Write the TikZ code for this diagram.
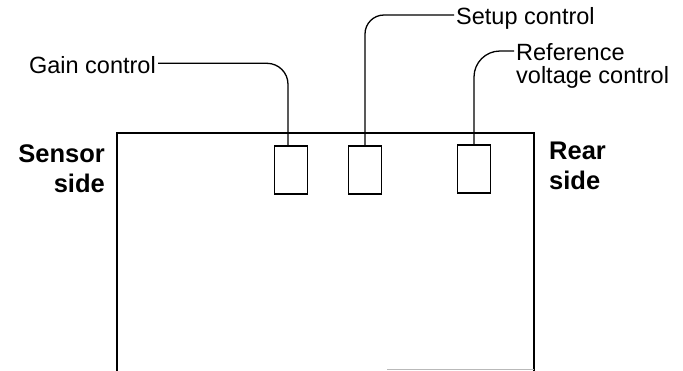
\documentclass[tikz,border=0pt]{standalone}
\usepackage{fontspec}
\setmainfont{Liberation Sans}
\begin{document}
\begin{tikzpicture}[x=1pt,y=-1pt,
  lbl/.style={inner sep=0pt, font=\fontsize{23.5}{23.5}\selectfont},
  sidelbl/.style={inner sep=0pt, font=\fontsize{25.5}{30}\selectfont\bfseries},
  knob/.style={draw, line width=1.6pt, minimum width=33pt, minimum height=48pt, inner sep=0pt},
  housing/.style={line width=1.8pt},
  lead/.style={line width=1.3pt}]
\useasboundingbox (0,0) rectangle (683,370);
% housing
\draw[housing] (117,371) -- (117,133) -- (534,133) -- (534,371);
\draw[gray!55, line width=1pt] (387,369.5) -- (534,369.5);
% controls
\node[knob] (b1) at (291,170) {};
\node[knob] (b2) at (365,170) {};
\node[knob] (b3) at (474,169) {};
\coordinate (t1) at ([xshift=-3pt]b1.north);
% labels (base anchor of a two-line node = baseline of its last line)
\node[lbl, anchor=base east] (gain) at (156,73.3) {Gain control};
\node[lbl, anchor=base west] (setup) at (456,24.6) {Setup control};
\node[lbl, anchor=base west, align=left] (ref) at (516,83.5) {Reference\\voltage control};
\node[sidelbl, anchor=base east, align=right] (sensor) at (105,192) {Sensor\\side};
\node[sidelbl, anchor=base west, align=left] (rear) at (549,189) {Rear\\side};
% leaders
\draw[lead, rounded corners=21pt] ([xshift=2pt,yshift=10pt]gain.base east) -| (t1);
\draw[lead, rounded corners=19pt] ([xshift=-2pt,yshift=9.6pt]setup.base west) -| (b2.north);
\draw[lead, rounded corners=26pt] ([xshift=-2pt,yshift=32.5pt]ref.base west) -| (b3.north);
\end{tikzpicture}
\end{document}
